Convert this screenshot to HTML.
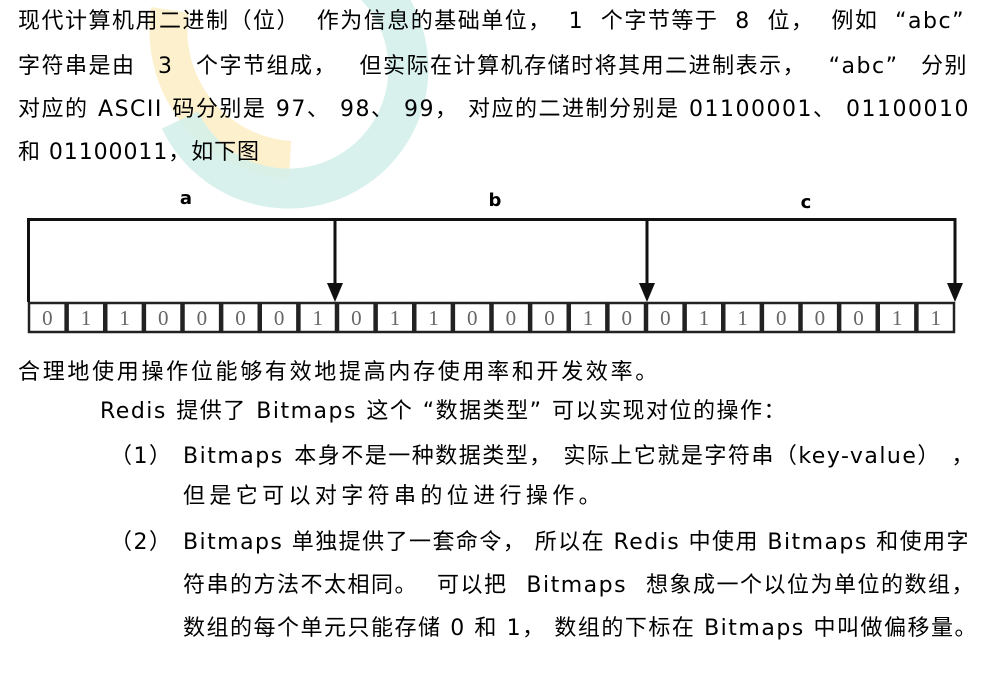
<!DOCTYPE html>
<html><head><meta charset="utf-8"><style>
body{margin:0;width:1003px;height:689px;background:#fff;position:relative;overflow:hidden;font-family:"DejaVu Sans","Noto Sans CJK SC",sans-serif;color:#000}
.l{position:absolute;font-size:22px;line-height:30px;white-space:nowrap;letter-spacing:1.5px}
svg{position:absolute;left:0;top:0}
</style></head><body>
<svg width="1003" height="689">
<path d="M170 10 A130 130 0 0 0 290 160" stroke="#fdefc8" stroke-width="38" fill="none" opacity="0.9"/>
<path d="M220 -30 A120 120 0 1 1 180 120" stroke="#d5f0ea" stroke-width="40" fill="none" opacity="0.9"/>
</svg>
<div class="l j" data-w="947" style="left:18px;top:7px">现代计算机用二进制（位） 作为信息的基础单位， 1 个字节等于 8 位， 例如 “abc”</div>
<div class="l j" data-w="950" style="left:18px;top:52px">字符串是由 3 个字节组成， 但实际在计算机存储时将其用二进制表示， “abc” 分别</div>
<div class="l j" data-w="952" style="left:18px;top:95px">对应的 ASCII 码分别是 97、 98、 99， 对应的二进制分别是 01100001、 01100010</div>
<div class="l j" data-w="242" style="left:18px;top:138px">和 01100011，如下图</div>
<svg width="1003" height="689">
<g font-family="DejaVu Sans,sans-serif" font-weight="bold" font-size="18" text-anchor="middle">
<text x="186" y="204">a</text><text x="495" y="206">b</text><text x="806" y="208">c</text></g>
<path d="M28.5 302 V219.5 H955 V285 M335 219.5 V285 M647 219.5 V285" stroke="#111" stroke-width="3" fill="none"/>
<path d="M327 283 H343 L335 302Z M639 283 H655 L647 302Z M947 283 H963 L955 302Z" fill="#111"/>
<g id="cells" stroke="#222" stroke-width="2.5" fill="none"></g>
<g font-family="Liberation Serif,serif" font-size="21" fill="#666" text-anchor="middle" id="bits"></g>
</svg>
<div class="l j" data-w="642" style="left:18px;top:358px">合理地使用操作位能够有效地提高内存使用率和开发效率。</div>
<div class="l j" data-w="687" style="left:100px;top:397px">Redis 提供了 Bitmaps 这个 “数据类型” 可以实现对位的操作：</div>
<div class="l" style="left:110px;top:442px">（1）</div>
<div class="l j" data-w="792" style="left:183px;top:442px">Bitmaps 本身不是一种数据类型， 实际上它就是字符串（key-value） ，</div>
<div class="l j" data-w="422" style="left:183px;top:482px">但是它可以对字符串的位进行操作。</div>
<div class="l" style="left:110px;top:528px">（2）</div>
<div class="l j" data-w="787" style="left:183px;top:528px">Bitmaps 单独提供了一套命令， 所以在 Redis 中使用 Bitmaps 和使用字</div>
<div class="l j" data-w="792" style="left:183px;top:571px">符串的方法不太相同。 可以把 Bitmaps 想象成一个以位为单位的数组，</div>
<div class="l j" data-w="795" style="left:183px;top:614px">数组的每个单元只能存储 0 和 1， 数组的下标在 Bitmaps 中叫做偏移量。</div>
<script>
var bits="011000010110001001100011",w=(955-28)/24,c=document.getElementById('cells'),b=document.getElementById('bits'),ns="http://www.w3.org/2000/svg";
for(var i=0;i<24;i++){var x=28+i*w;var r=document.createElementNS(ns,'rect');r.setAttribute('x',x+1);r.setAttribute('y',303);r.setAttribute('width',w-2);r.setAttribute('height',29);c.appendChild(r);
var t=document.createElementNS(ns,'text');t.setAttribute('x',x+w/2);t.setAttribute('y',325);t.textContent=bits[i];b.appendChild(t);}
document.querySelectorAll('.j').forEach(function(e){
 var tw=+e.getAttribute('data-w'),txt=e.textContent,n=(txt.match(/ /g)||[]).length;
 var d=tw-e.getBoundingClientRect().width;
 if(n>0&&d>0&&d/n<=14){e.style.wordSpacing=(d/n)+'px';}
 else{
  var extra=d; if(n>0&&d>0){e.style.wordSpacing=(14)+'px';extra=d-14*n;}
  e.style.letterSpacing=(1.5+extra/txt.length)+'px';
 }
});
</script>
</body></html>
